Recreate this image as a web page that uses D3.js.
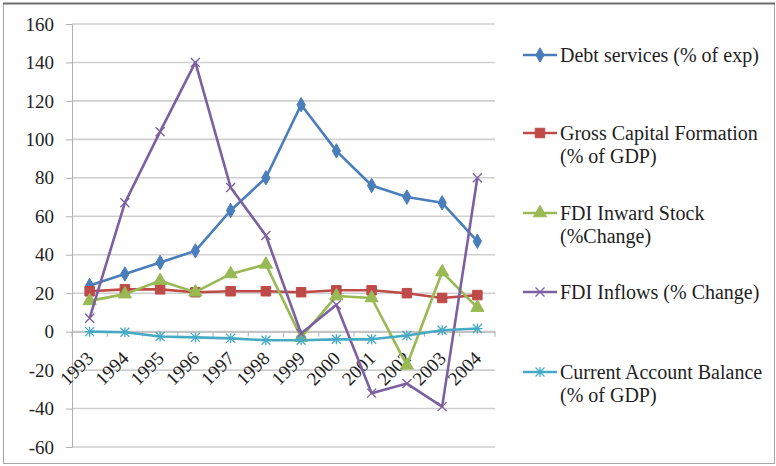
<!DOCTYPE html>
<html>
<head>
<meta charset="utf-8">
<script src="https://cdn.jsdelivr.net/npm/d3@7"></script>
<style>
  html body svg#chart text { font-family: "Liberation Serif" !important; }
</style>
</head>
<body style="margin:0">
<svg id="chart" width="776" height="466"></svg>
<script>
// Yearly indicators, 1993-2004
const years = ["1993","1994","1995","1996","1997","1998","1999","2000","2001","2002","2003","2004"];
const debtServices   = [24, 30, 36, 42, 63, 80, 118, 94, 76, 70, 67, 47];
const grossCapital   = [21, 22, 22, 20.5, 21, 21, 20.5, 21.5, 21.5, 20, 17.5, 19];
const fdiStock       = [16, 19.5, 26.5, 20.5, 30, 35, -3, 18.5, 17.5, -17.5, 31, 12.5];
const fdiInflows     = [7, 67, 104, 140, 75, 50, -1, 14, -32, -27, -39, 80];
const currentAccount = [0, -0.3, -2.5, -3, -3.5, -4.5, -4.5, -4, -4, -2, 0.7, 1.6];
const yTicks = [-60, -40, -20, 0, 20, 40, 60, 80, 100, 120, 140, 160];

const seriesNames = [
  ["Debt services (% of exp)"],
  ["Gross Capital Formation", "(% of GDP)"],
  ["FDI Inward Stock", "(%Change)"],
  ["FDI Inflows (% Change)"],
  ["Current Account Balance", "(% of GDP)"]
];
const seriesValues = [debtServices, grossCapital, fdiStock, fdiInflows, currentAccount];
const seriesColors = ["#4a7ebb", "#be4b48", "#98b954", "#7d60a0", "#46aac5"];

const FONT = "Liberation Serif";
const TEXT_COLOR = "#1e1e1e";

const svg = d3.select("#chart").style("display", "block");

function serif(sel, size) {
  sel.attr("font-family", FONT)
    .style("font-family", `"${FONT}"`, "important")
    .attr("font-size", size)
    .attr("fill", TEXT_COLOR);
}

// chart frame
svg.append("rect")
  .attr("x", 3.5).attr("y", 3.5).attr("width", 771).attr("height", 460)
  .attr("fill", "#fff").attr("stroke", "#a6a6a6").attr("stroke-width", 1);
svg.append("line")
  .attr("x1", 3).attr("x2", 775).attr("y1", 3.5).attr("y2", 3.5)
  .attr("stroke", "#6e6e6e").attr("stroke-width", 2);

const plot = { left: 72, right: 495, top: 24, bottom: 447 };

const x = d3.scaleBand().domain(years).range([plot.left, plot.right]).padding(0);
const y = d3.scaleLinear().domain([-60, 160]).range([plot.bottom, plot.top]);
const cx = d => x(d) + x.bandwidth() / 2;

// horizontal gridlines
svg.append("g")
  .selectAll("line").data(yTicks).join("line")
  .attr("x1", plot.left).attr("x2", plot.right)
  .attr("y1", d => y(d)).attr("y2", d => y(d))
  .attr("stroke", "#cfcfcf").attr("stroke-width", 1.6);

// value axis
const yAxis = d3.axisLeft(y).tickValues(yTicks).tickSize(6).tickPadding(12)
  .tickFormat(d => String(d));
const gy = svg.append("g").attr("transform", `translate(${plot.left},0)`).call(yAxis);
gy.attr("font-family", FONT);
gy.select(".domain").attr("stroke", "#b0b0b0");
gy.selectAll(".tick line").attr("stroke", "#b0b0b0");
gy.selectAll(".tick text").call(serif, 19);

// category axis crossing at zero
const xAxis = d3.axisBottom(x).tickSize(0).tickFormat(d => d);
const gx = svg.append("g").attr("transform", `translate(0,${y(0)})`).call(xAxis);
gx.attr("font-family", FONT);
gx.select(".domain").attr("stroke", "#b0b0b0");
gx.selectAll(".tick text")
  .call(serif, 19)
  .attr("text-anchor", "end")
  .attr("dy", null).attr("y", 0)
  .attr("transform", "translate(5,28) rotate(-45)");
// tick marks between categories
gx.selectAll("line.bnd").data(years.concat(["end"])).join("line")
  .attr("class", "bnd")
  .attr("x1", (d, i) => plot.left + i * x.bandwidth())
  .attr("x2", (d, i) => plot.left + i * x.bandwidth())
  .attr("y1", 0).attr("y2", 5)
  .attr("stroke", "#b0b0b0");

// marker shapes
const diamond = d3.symbol().type(d3.symbolDiamond).size(60)();
const square = d3.symbol().type(d3.symbolSquare).size(90)();
const triangle = d3.symbol().type(d3.symbolTriangle).size(75)();
const crossX = "M-4.5,-4.5L4.5,4.5M-4.5,4.5L4.5,-4.5";
const star = "M-4.5,-4.5L4.5,4.5M-4.5,4.5L4.5,-4.5M0,-5L0,5M-5,0L5,0";
const markers = [
  { path: diamond, filled: true },
  { path: square, filled: true },
  { path: triangle, filled: true },
  { path: crossX, filled: false },
  { path: star, filled: false }
];

function drawMarker(g, i, px, py) {
  const m = markers[i];
  g.append("path")
    .attr("d", m.path)
    .attr("transform", `translate(${px},${py})`)
    .attr("fill", m.filled ? seriesColors[i] : "none")
    .attr("stroke", seriesColors[i])
    .attr("stroke-width", m.filled ? 1 : 1.3);
}

const line = d3.line().x(d => cx(d.year)).y(d => y(d.value));

seriesValues.forEach((vals, i) => {
  const pts = years.map((yr, j) => ({ year: yr, value: vals[j] }));
  const g = svg.append("g");
  g.append("path")
    .datum(pts)
    .attr("d", line)
    .attr("fill", "none")
    .attr("stroke", seriesColors[i])
    .attr("stroke-width", 2.6)
    .attr("stroke-linejoin", "round");
  pts.forEach(p => drawMarker(g, i, cx(p.year), y(p.value)));
});

// legend
const legendTop = [55, 133, 213, 292, 372];
const legend = svg.append("g");
seriesNames.forEach((lines, i) => {
  const ly = legendTop[i];
  legend.append("line")
    .attr("x1", 523).attr("x2", 557).attr("y1", ly).attr("y2", ly)
    .attr("stroke", seriesColors[i]).attr("stroke-width", 2.6);
  drawMarker(legend, i, 540, ly);
  lines.forEach((s, k) => {
    legend.append("text")
      .attr("x", 560).attr("y", ly + 7 + k * 23)
      .call(serif, 20)
      .text(s);
  });
});
</script>
</body>
</html>
